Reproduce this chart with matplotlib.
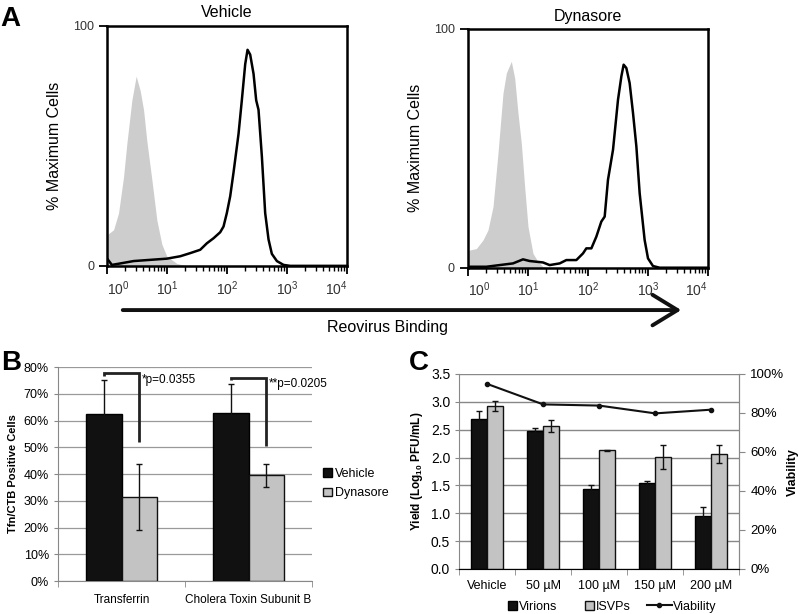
import matplotlib
matplotlib.use('Agg')
import matplotlib.pyplot as plt
import numpy as np
from matplotlib.patches import FancyArrowPatch, Patch
from matplotlib.lines import Line2D
from matplotlib.ticker import FixedLocator, LogLocator, NullFormatter, PercentFormatter, FormatStrFormatter

plt.rcParams['font.family'] = ['Liberation Sans', 'DejaVu Sans']
plt.rcParams['mathtext.fontset'] = 'custom'
plt.rcParams['mathtext.rm'] = 'Liberation Sans'
plt.rcParams['mathtext.bf'] = 'Liberation Sans:bold'

# panel A - flow cytometry histograms (log10 fluorescence, % max)
veh_ctrl_x = [0.0, 0.106, 0.189, 0.272, 0.328, 0.411, 0.483, 0.55, 0.606, 0.661, 0.744, 0.828, 0.911, 0.994, 1.161, 1.33]
veh_ctrl_y = [13, 15, 22, 37, 51, 69, 79, 73, 65, 52, 36, 19, 9, 4, 1, 0]
veh_reo_x = [0.0, 0.078, 0.217, 0.439, 0.717, 0.994, 1.217, 1.383, 1.55, 1.661, 1.772, 1.883, 1.939, 1.994, 2.05,
             2.106, 2.189, 2.244, 2.3, 2.339, 2.383, 2.439, 2.483, 2.522, 2.578, 2.633, 2.689, 2.744, 2.828, 2.939, 3.05, 4.0]
veh_reo_y = [3, 0.4, 1, 2, 2.5, 3, 4, 5.3, 6.7, 9.4, 11.5, 14, 16.4, 22, 29,
             39, 55, 69, 84, 90, 88, 80, 69, 65, 45.5, 22, 11, 5, 2, 0.4, 0, 0]
dyn_ctrl_x = [0.0, 0.028, 0.139, 0.25, 0.333, 0.417, 0.5, 0.583, 0.639, 0.722, 0.778, 0.833, 0.889, 0.944, 1.0, 1.083, 1.167, 1.25, 1.333]
dyn_ctrl_y = [7, 7.4, 8, 11.6, 15.8, 25.6, 48, 73, 81.5, 86.4, 79.4, 64.8, 52, 34, 17.2, 6, 2.5, 0.4, 0]
dyn_reo_x = [0.0, 0.306, 0.528, 0.75, 0.917, 1.028, 1.25, 1.361, 1.528, 1.639, 1.806, 1.917, 1.972, 2.056, 2.139, 2.222,
             2.278, 2.333, 2.417, 2.5, 2.556, 2.594, 2.639, 2.694, 2.75, 2.806, 2.861, 2.944, 3.0, 3.083, 3.194, 4.0]
dyn_reo_y = [0.4, 0.4, 1.1, 1.8, 3.5, 2.8, 2.2, 1.1, 1.8, 3.2, 3.2, 6, 8.1, 8.1, 13, 19.3,
             21.4, 36.8, 49.4, 70.3, 80.1, 85, 83.6, 77.3, 64.8, 50.8, 31.2, 11.6, 3.9, 0.7, 0, 0]

# panel B
b_cats = ['Transferrin', 'Cholera Toxin Subunit B']
b_vehicle = [62.5, 63.0]
b_vehicle_err = [12.5, 10.5]
b_dynasore = [31.5, 39.5]
b_dynasore_err = [12.3, 4.2]
b_pvals = ['*p=0.0355', '**p=0.0205']

# panel C
c_cats = ['Vehicle', '50 µM', '100 µM', '150 µM', '200 µM']
c_virions = [2.69, 2.48, 1.43, 1.54, 0.96]
c_virions_err = [0.14, 0.05, 0.08, 0.04, 0.15]
c_isvps = [2.92, 2.57, 2.13, 2.01, 2.06]
c_isvps_err = [0.09, 0.11, 0.01, 0.21, 0.16]
c_viability = [94.9, 84.4, 83.8, 79.8, 81.7]

fig = plt.figure(figsize=(8, 6.14), dpi=100)


def flow_panel(rect, title, cx, cy, rx, ry):
    ax = fig.add_axes(rect)
    ax.fill_between(10 ** np.array(cx), cy, color='#cdcdcd', lw=0)
    ax.plot(10 ** np.array(rx), ry, color='black', lw=1.8)
    ax.set_xscale('log')
    ax.set_xlim(1, 1e4)
    ax.set_ylim(0, 100)
    ax.set_title(title, fontsize=11.5, pad=6)
    ax.set_ylabel('% Maximum Cells', fontsize=11.5, labelpad=8)
    ax.set_yticks([0, 100])
    ax.set_yticklabels(['0', '100'], fontsize=9, color='#333333')
    ax.xaxis.set_major_locator(FixedLocator([1, 10, 100, 1000, 10000]))
    ax.xaxis.set_minor_locator(LogLocator(base=10, subs=np.arange(2, 10)))
    ax.xaxis.set_minor_formatter(NullFormatter())
    ax.set_xticklabels([r'$10^{%d}$' % i for i in range(5)], fontsize=10, color='#333333')
    labs = ax.get_xticklabels()
    labs[0].set_ha('left')
    labs[-1].set_ha('right')
    ax.tick_params(axis='both', which='major', direction='out', length=6, width=1.3)
    ax.tick_params(axis='x', which='minor', direction='out', length=3.5, width=1)
    for s in ax.spines.values():
        s.set_linewidth(1.8)
    return ax


flow_panel([0.134, 0.567, 0.30, 0.391], 'Vehicle', veh_ctrl_x, veh_ctrl_y, veh_reo_x, veh_reo_y)
flow_panel([0.585, 0.564, 0.30, 0.389], 'Dynasore', dyn_ctrl_x, dyn_ctrl_y, dyn_reo_x, dyn_reo_y)

arrow = FancyArrowPatch((0.15, 0.495), (0.855, 0.495), transform=fig.transFigure,
                        arrowstyle='->,head_length=0.9,head_width=0.55', mutation_scale=20,
                        lw=2.8, color='#111111')
fig.add_artist(arrow)
fig.text(0.484, 0.466, 'Reovirus Binding', ha='center', va='center', fontsize=11.5)

# panel B
axb = fig.add_axes([0.0725, 0.0537, 0.3175, 0.3485])
xb = np.arange(len(b_cats))
w = 0.283
ekw = dict(ecolor='#111111', capsize=2.5, elinewidth=1, capthick=1)
axb.bar(xb - w / 2, b_vehicle, w, yerr=b_vehicle_err, color='#111111', edgecolor='black', lw=1,
        error_kw=ekw, label='Vehicle', zorder=3)
axb.bar(xb + w / 2, b_dynasore, w, yerr=b_dynasore_err, color='#c3c3c3', edgecolor='#111111', lw=1,
        error_kw=ekw, label='Dynasore', zorder=3)
brackets = [(77.6, 76.5, 52.0, 75.2), (75.9, 75.0, 50.3, 73.7)]
for i, (ytop, yleft, yright, ytxt) in enumerate(brackets):
    x0, x1 = xb[i] - w / 2, xb[i] + w / 2
    axb.plot([x0, x0, x1, x1], [yleft, ytop, ytop, yright], color='#222222', lw=2, zorder=4,
             solid_capstyle='butt', solid_joinstyle='miter')
    axb.text(x1 + 0.02, ytxt, b_pvals[i], fontsize=8.5, va='center', ha='left')
axb.set_xlim(-0.5, 1.5)
axb.set_ylim(0, 80)
axb.set_yticks(np.arange(0, 81, 10))
axb.yaxis.set_major_formatter(PercentFormatter(decimals=0))
axb.set_xticks(xb)
axb.set_xticklabels(b_cats, fontsize=8.5)
axb.xaxis.set_minor_locator(FixedLocator([-0.5, 0.5, 1.5]))
axb.tick_params(axis='x', which='major', length=0, pad=9)
axb.tick_params(axis='x', which='minor', length=4, color='#888888')
axb.tick_params(axis='y', labelsize=9, length=3, color='#888888')
axb.grid(axis='y', color='#999999', lw=0.9, zorder=0)
for s in ['top', 'right']:
    axb.spines[s].set_visible(False)
for s in ['left', 'bottom']:
    axb.spines[s].set_color('#888888')
axb.set_ylabel('Tfn/CTB Positive Cells', fontsize=8, fontweight='bold', labelpad=4)
axb.legend(loc='center left', bbox_to_anchor=(1.0, 0.455), frameon=False, fontsize=9,
           handlelength=0.7, handleheight=0.7, handletextpad=0.2, labelspacing=0.6)

# panel C
axc = fig.add_axes([0.574, 0.0733, 0.35, 0.3176])
xc = np.arange(len(c_cats))
wc = 0.285
axc.bar(xc - wc / 2, c_virions, wc, yerr=c_virions_err, color='#111111', edgecolor='black', lw=1,
        error_kw=ekw, zorder=3)
axc.bar(xc + wc / 2, c_isvps, wc, yerr=c_isvps_err, color='#c3c3c3', edgecolor='#111111', lw=1,
        error_kw=ekw, zorder=3)
axc.set_xlim(-0.5, len(c_cats) - 0.5)
axc.set_ylim(0, 3.5)
axc.set_yticks(np.arange(0, 3.51, 0.5))
axc.yaxis.set_major_formatter(FormatStrFormatter('%.1f'))
axc.set_xticks(xc)
axc.set_xticklabels(c_cats, fontsize=9)
axc.xaxis.set_minor_locator(FixedLocator(np.arange(-0.5, len(c_cats), 1)))
axc.tick_params(axis='x', which='major', length=0, pad=8)
axc.tick_params(axis='x', which='minor', length=4, color='#888888')
axc.tick_params(axis='y', labelsize=10, length=3, color='#888888')
axc.grid(axis='y', color='#888888', lw=1, zorder=0)
axc.spines['top'].set_visible(False)
for s in ['left', 'bottom', 'right']:
    axc.spines[s].set_color('#888888')
axc.set_ylabel(r'Yield (Log$_{\mathbf{10}}$ PFU/mL)', fontsize=8.5, fontweight='bold', labelpad=4)

axc2 = axc.twinx()
axc2.plot(xc, c_viability, color='#111111', lw=1.5, marker='o', markersize=3, zorder=5)
axc2.set_ylim(0, 100)
axc2.set_yticks(np.arange(0, 101, 20))
axc2.yaxis.set_major_formatter(PercentFormatter(decimals=0))
axc2.tick_params(axis='y', labelsize=9.5, length=4, color='#888888', pad=4)
axc2.spines['top'].set_visible(False)
axc2.spines['right'].set_color('#888888')
axc2.spines['left'].set_visible(False)
fig.text(0.991, 0.231, 'Viability', rotation=90, ha='center', va='center', fontsize=9, fontweight='bold')

bar_handles = [Patch(facecolor='#111111', edgecolor='black', label='Virions'),
               Patch(facecolor='#c3c3c3', edgecolor='#111111', label='ISVPs')]
line_handle = [Line2D([0], [0], color='#111111', lw=1.5, marker='o', markersize=3, label='Viability')]
fig.legend(handles=bar_handles, loc='center', bbox_to_anchor=(0.712, 0.012), ncol=2, frameon=False,
           fontsize=9, handlelength=0.7, handleheight=0.7, handletextpad=0.2, columnspacing=2.2)
fig.legend(handles=line_handle, loc='center', bbox_to_anchor=(0.852, 0.012), frameon=False,
           fontsize=9, handlelength=2.0, handletextpad=0.1)

fig.text(0.001, 0.99, 'A', fontsize=20, fontweight='bold', va='top')
fig.text(0.001, 0.43, 'B', fontsize=20, fontweight='bold', va='top')
fig.text(0.511, 0.43, 'C', fontsize=20, fontweight='bold', va='top')

plt.savefig('out.png', dpi=100)
